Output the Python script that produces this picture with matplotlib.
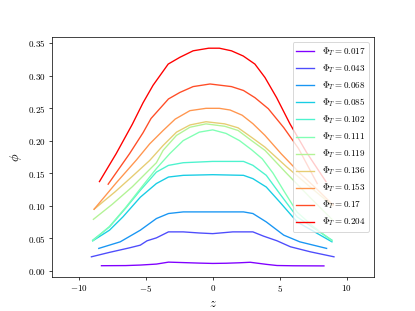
import numpy as np
import matplotlib
matplotlib.use("Agg")
import matplotlib.pyplot as plt

plt.rcParams['font.family'] = 'serif'
plt.rcParams['font.serif'] = ['cmr10']
plt.rcParams['mathtext.fontset'] = 'cm'
plt.rcParams['axes.formatter.use_mathtext'] = True

phi_T = ['0.017', '0.043', '0.068', '0.085', '0.102', '0.111',
         '0.119', '0.136', '0.153', '0.17', '0.204']

# profiles phi(z)
z_017 = [-8.3, -6.5, -5.4, -4.2, -3.3, -2.2, -1.0, 0.0, 1.0, 2.0, 2.8,
         4.0, 4.8, 6.0, 8.3]
phi_017 = [0.0077, 0.0079, 0.0087, 0.0102, 0.0132, 0.0125, 0.0117, 0.0112,
           0.0115, 0.0122, 0.0130, 0.0098, 0.0080, 0.0076, 0.0074]

z_043 = [-9.05, -7.7, -6.2, -5.4, -4.9, -4.2, -3.3, -2.2, -1.0, 0.0, 1.5,
         3.0, 3.8, 4.8, 5.8, 7.3, 9.05]
phi_043 = [0.0214, 0.0282, 0.0352, 0.0393, 0.0460, 0.0505, 0.0597, 0.0597,
           0.0580, 0.0570, 0.0597, 0.0597, 0.0531, 0.0460, 0.0368, 0.0290,
           0.0214]

z_068 = [-8.5, -6.9, -5.4, -4.2, -3.3, -2.2, 0.0, 2.3, 3.0, 4.0, 5.3, 6.5,
         8.5]
phi_068 = [0.0343, 0.0444, 0.0623, 0.0802, 0.0879, 0.0904, 0.0904, 0.0904,
           0.0879, 0.0750, 0.0547, 0.0444, 0.0343]

z_085 = [-8.95, -7.7, -6.7, -5.4, -4.2, -3.3, -2.2, 0.0, 2.3, 3.0, 4.0,
         5.0, 6.3, 8.9]
phi_085 = [0.046, 0.0623, 0.0827, 0.113, 0.134, 0.144, 0.1466, 0.1476,
           0.1466, 0.1415, 0.1286, 0.1057, 0.075, 0.0444]

z_102 = [-8.95, -7.7, -6.5, -5.4, -4.2, -3.3, -2.2, 0.0, 2.3, 3.0, 4.0,
         5.0, 6.3, 8.9]
phi_102 = [0.047, 0.0674, 0.096, 0.1236, 0.1516, 0.1619, 0.166, 0.168,
           0.168, 0.162, 0.1466, 0.1185, 0.0827, 0.047]

z_111 = [-8.95, -7.7, -6.5, -5.4, -4.2, -3.2, -2.2, -1.0, 0.0, 1.0, 2.0,
         2.9, 3.7, 4.5, 5.3, 6.3, 7.5, 8.9]
phi_111 = [0.046, 0.068, 0.097, 0.126, 0.157, 0.180, 0.200, 0.213, 0.2165,
           0.211, 0.200, 0.186, 0.172, 0.150, 0.123, 0.090, 0.068, 0.046]

z_119 = [-8.9, -7.5, -6.0, -4.2, -3.7, -2.7, -1.7, -0.5, 0.9, 1.9, 2.9,
         3.9, 5.5, 7.2, 8.9]
phi_119 = [0.079, 0.102, 0.129, 0.166, 0.185, 0.208, 0.2205, 0.2257,
           0.222, 0.2155, 0.200, 0.185, 0.150, 0.114, 0.079]

z_136 = [-8.85, -7.3, -6.0, -4.7, -3.7, -2.7, -1.7, -0.5, 0.9, 1.9, 2.9,
         3.9, 5.5, 7.2, 8.95]
phi_136 = [0.0945, 0.121, 0.145, 0.1695, 0.1925, 0.213, 0.224, 0.229,
           0.2257, 0.2196, 0.205, 0.190, 0.160, 0.130, 0.100]

z_153 = [-8.85, -7.2, -5.7, -4.7, -3.7, -2.8, -1.7, -0.5, 0.5, 1.3, 2.2,
         3.0, 3.9, 5.1, 6.5, 7.8, 9.0]
phi_153 = [0.0945, 0.135, 0.170, 0.195, 0.2155, 0.233, 0.246, 0.2496,
           0.2496, 0.247, 0.239, 0.226, 0.208, 0.180, 0.150, 0.125, 0.1006]

z_170 = [-7.8, -6.2, -5.2, -4.6, -3.3, -2.45, -1.46, -0.2, 1.4, 2.3, 3.15,
         4.15, 5.3, 6.4, 7.8]
phi_170 = [0.133, 0.180, 0.212, 0.234, 0.264, 0.274, 0.283, 0.287, 0.283,
           0.277, 0.266, 0.249, 0.220, 0.188, 0.134]

z_204 = [-8.45, -7.2, -6.0, -5.2, -4.45, -3.32, -2.45, -1.46, -0.3,
         0.5, 1.4, 2.28, 3.15, 3.9, 4.77, 5.76, 7.0, 8.45]
phi_204 = [0.137, 0.180, 0.225, 0.258, 0.285, 0.3176, 0.328, 0.338,
           0.342, 0.342, 0.338, 0.330, 0.3176, 0.297, 0.266, 0.226, 0.182,
           0.137]

profiles = [(z_017, phi_017), (z_043, phi_043), (z_068, phi_068),
            (z_085, phi_085), (z_102, phi_102), (z_111, phi_111),
            (z_119, phi_119), (z_136, phi_136), (z_153, phi_153),
            (z_170, phi_170), (z_204, phi_204)]

colors = plt.cm.rainbow(np.linspace(0, 1, len(profiles)))

fig, ax = plt.subplots(figsize=(415 / 65, 311 / 65), dpi=65)
for (z, phi), label, col in zip(profiles, phi_T, colors):
    ax.plot(z, phi, color=col, label=r'$\Phi_T = %s$' % label)

ax.set_xlim(-12, 12)
ax.set_xlabel(r'$z$', fontsize=14)
ax.set_ylabel(r'$\phi$', fontsize=14)
ax.legend(loc='upper right')

fig.savefig('out.png', dpi=65)
